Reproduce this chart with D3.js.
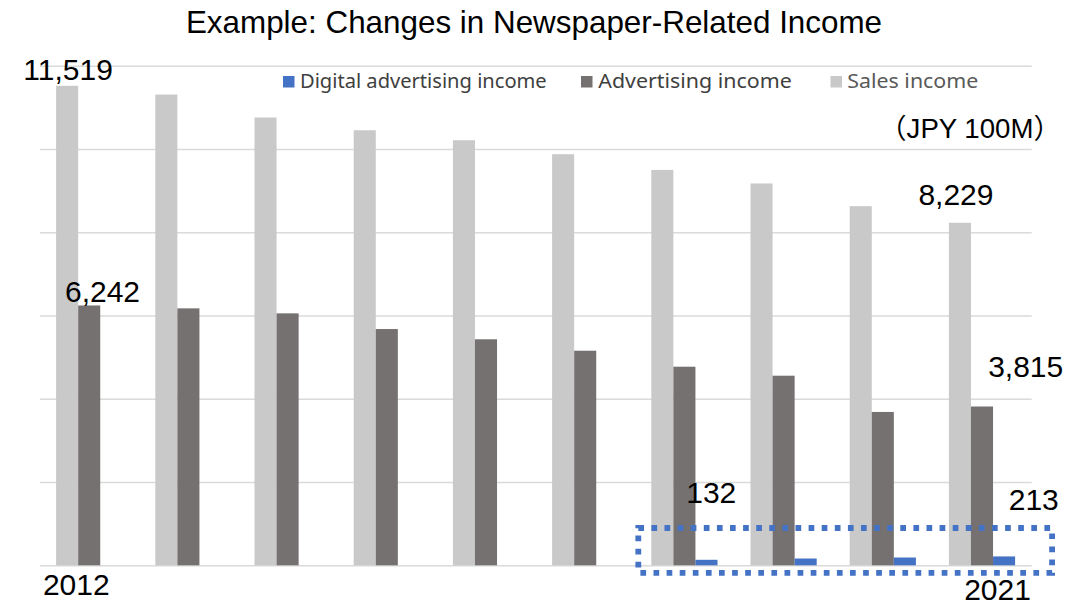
<!DOCTYPE html>
<html>
<head>
<meta charset="utf-8">
<script src="https://cdn.jsdelivr.net/npm/d3@7"></script>
<style>
  html, body { margin: 0; padding: 0; background: #ffffff; }
  svg { display: block; }
</style>
</head>
<body>
<svg id="chart" width="1067" height="605"></svg>
<script>
// Newspaper-related income by year (unit: JPY 100M)
const years = [2012, 2013, 2014, 2015, 2016, 2017, 2018, 2019, 2020, 2021];
const salesIncome = [11519, 11309, 10757, 10452, 10212, 9876, 9499, 9173, 8628, 8229];
const advertisingIncome = [6242, 6173, 6053, 5676, 5430, 5155, 4771, 4555, 3684, 3815];
const digitalAdIncome = [null, null, null, null, null, null, 132, 163, 187, 213];

const seriesKeys = ["sales", "advertising", "digital"];
const seriesNames = { digital: "Digital advertising income", advertising: "Advertising income", sales: "Sales income" };
const legendOrder = ["digital", "advertising", "sales"];
const yTicks = [0, 2000, 4000, 6000, 8000, 10000, 12000];
const yearLabels = [2012, 2021];
const titleText = "Example: Changes in Newspaper-Related Income";
const unitText = "（JPY 100M）";

const colors = { sales: "#c9c9c9", advertising: "#767171", digital: "#4472c4" };
const valuesBy = { sales: salesIncome, advertising: advertisingIncome, digital: digitalAdIncome };

const svg = d3.select("#chart");
const numFont = "Arial, 'Liberation Sans', sans-serif";

const x0 = d3.scaleBand().domain(years).range([39.5, 1031.5]);
const x1 = d3.scaleBand().domain(seriesKeys).range([16.6, 82.8]);
const y = d3.scaleLinear().domain([0, 12000]).range([565.3, 65.8]);

// horizontal gridlines
const grid = svg.append("g")
  .attr("transform", "translate(40,0)")
  .call(d3.axisLeft(y).tickValues(yTicks).tickSize(-(1031.7 - 40)).tickFormat(""));
grid.select(".domain").remove();
grid.selectAll(".tick line").attr("stroke", "#dadada").attr("stroke-width", 1.6);

// bars: one group per year, sales / advertising / digital side by side
const rows = years.map((yr, i) => ({ year: yr, i }));
const groups = svg.append("g").selectAll("g").data(rows).join("g")
  .attr("transform", d => `translate(${x0(d.year)},0)`);
groups.selectAll("rect")
  .data(d => seriesKeys.map(k => ({ key: k, value: valuesBy[k][d.i] })).filter(v => v.value != null))
  .join("rect")
  .attr("x", d => x1(d.key))
  .attr("width", x1.bandwidth())
  .attr("y", d => y(d.value))
  .attr("height", d => y(0) - y(d.value))
  .attr("fill", d => colors[d.key]);

// dotted highlight box around the digital advertising bars
const dxs = years.slice(6);
const boxLeft = x0(dxs[0]) + x1("sales") - 13;
const boxRight = x0(dxs[dxs.length - 1]) + x1("digital") + x1.bandwidth() + 37;
svg.append("rect")
  .attr("x", boxLeft)
  .attr("y", y(0) - 37.3)
  .attr("width", boxRight - boxLeft)
  .attr("height", 44.8)
  .attr("fill", "none")
  .attr("stroke", "#4472c4")
  .attr("stroke-width", 5.8)
  .attr("stroke-dasharray", "5.7 7.4");

// value labels
const fmt = d3.format(",");
const valueLabels = [
  { key: "sales", year: 2012, dx: 1, dy: -5.8 },
  { key: "sales", year: 2021, dx: -4, dy: -17.8 },
  { key: "advertising", year: 2012, dx: 13.3, dy: -3.8 },
  { key: "advertising", year: 2021, dx: 43.7, dy: -29.8 },
  { key: "digital", year: 2018, dx: 4.8, dy: -56.5 },
  { key: "digital", year: 2021, dx: 29.7, dy: -46.4 }
];
svg.append("g").selectAll("text").data(valueLabels).join("text")
  .attr("x", d => x0(d.year) + x1(d.key) + x1.bandwidth() / 2 + d.dx)
  .attr("y", d => y(valuesBy[d.key][years.indexOf(d.year)]) + d.dy)
  .attr("text-anchor", "middle")
  .attr("font-family", numFont)
  .attr("font-size", 30)
  .attr("fill", "#000")
  .text(d => fmt(valuesBy[d.key][years.indexOf(d.year)]));

// year labels at both ends of the axis
const yearOffsets = { 2012: { dx: -12.8, y: 595 }, 2021: { dx: 15.6, y: 600 } };
svg.append("g").selectAll("text").data(yearLabels).join("text")
  .attr("x", d => x0(d) + x0.bandwidth() / 2 + yearOffsets[d].dx)
  .attr("y", d => yearOffsets[d].y)
  .attr("text-anchor", "middle")
  .attr("font-family", numFont)
  .attr("font-size", 30)
  .attr("fill", "#000")
  .text(d => d);

// title
svg.append("text")
  .attr("x", 534).attr("y", 33.3)
  .attr("text-anchor", "middle")
  .attr("font-family", numFont)
  .attr("font-size", 31.4)
  .attr("fill", "#000")
  .text(titleText);

// unit
svg.append("text")
  .attr("x", 879).attr("y", 137.7)
  .attr("font-family", numFont + ", 'Noto Sans CJK JP'")
  .attr("font-size", 27.6)
  .attr("fill", "#000")
  .text(unitText);

// legend
const legendPos = {
  digital: { sx: 283, tx: 300, w: 246.7 },
  advertising: { sx: 581, tx: 598.3, w: 193.4 },
  sales: { sx: 830.5, tx: 847.3, w: 131 }
};
const legendText = { digital: "#404040", advertising: "#404040", sales: "#595959" };
const leg = svg.append("g").selectAll("g").data(legendOrder).join("g");
leg.append("rect")
  .attr("x", d => legendPos[d].sx).attr("y", 76)
  .attr("width", 11.5).attr("height", 11.5)
  .attr("fill", d => colors[d]);
leg.append("text")
  .attr("x", d => legendPos[d].tx).attr("y", 88)
  .attr("font-family", "'Noto Sans', sans-serif")
  .attr("font-size", 20.6)
  .attr("textLength", d => legendPos[d].w)
  .attr("lengthAdjust", "spacingAndGlyphs")
  .attr("fill", d => legendText[d])
  .text(d => seriesNames[d]);
</script>
</body>
</html>
